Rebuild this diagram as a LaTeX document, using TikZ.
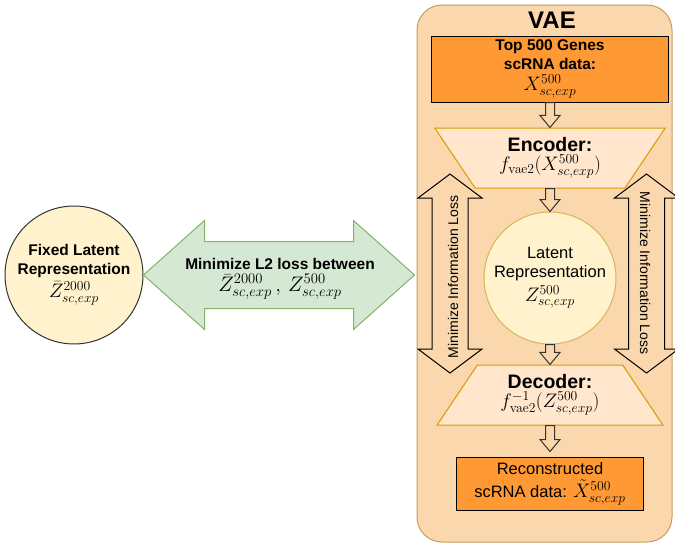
\RequirePackage{fix-cm}
\documentclass[tikz,border=0pt]{standalone}
\usepackage[no-math]{fontspec}
\setmainfont{Liberation Sans}
\usetikzlibrary{shapes.geometric,calc}

\definecolor{vaefill}{HTML}{FAD7AC}
\definecolor{vaeline}{HTML}{C89B5E}
\definecolor{datafill}{HTML}{FF9933}
\definecolor{codefill}{HTML}{FFE6CC}
\definecolor{codeline}{HTML}{D79B00}
\definecolor{latfill}{HTML}{FFF2CC}
\definecolor{latline}{HTML}{D6B656}
\definecolor{lossfill}{HTML}{D5E8D4}
\definecolor{lossline}{HTML}{82B366}

\newcommand{\txtsize}{\fontsize{15.5}{19}\selectfont}
\newcommand{\mathsize}{\fontsize{19.5}{22}\selectfont}

% hollow arrow pointing down from one node to the next
\newcommand{\hollowdown}[3][0pt]{%
  \draw[hollow] let \p1=(#2.south), \p2=(#3.north) in
    (\x1-4.5pt,\y1) -- (\x1+4.5pt,\y1) -- (\x1+4.5pt,\y2+12pt+#1) -- (\x1+10pt,\y2+12pt+#1)
    -- (\x1,\y2+#1) -- (\x1-10pt,\y2+12pt+#1) -- (\x1-4.5pt,\y2+12pt+#1) -- cycle;}

\tikzset{
  vaebox/.style={draw=vaeline, fill=vaefill, line width=1pt, rounded corners=25pt,
    minimum width=255pt, minimum height=537pt},
  databox/.style={draw=black, fill=datafill, line width=1pt, minimum width=237pt,
    minimum height=66pt, align=center, inner sep=0pt, font=\txtsize\bfseries},
  coder/.style={trapezium, trapezium stretches=true, trapezium angle=56, draw=codeline,
    fill=codefill, line width=1pt, minimum width=231pt, minimum height=60pt,
    align=center, inner sep=0pt},
  latent/.style={circle, fill=latfill, line width=1pt, inner sep=0pt, align=center,
    font=\fontsize{16.5}{19}\selectfont},
  hollow/.style={draw=black!80, fill=vaefill, line width=1pt},
  infoarrow/.style={draw=black, fill=vaefill, line width=1pt},
  lossarrow/.style={draw=lossline, fill=lossfill, line width=1pt},
  infotext/.style={font=\fontsize{14}{16}\selectfont, inner sep=0pt}
}

\begin{document}
\begin{tikzpicture}[x=1pt, y=-1pt]
  \useasboundingbox (0,0) rectangle (675,544);

  % VAE frame
  \node[vaebox] (vae) at (544.5,273.5) {};
  \node[font=\fontsize{24}{28}\selectfont\bfseries] (vaetitle) at (552,20.5) {VAE};

  % Nodes
  \node[databox] (topdata) at (550,69) {Top 500 Genes\\scRNA data:\\[2pt]\mathsize\mdseries$X^{500}_{sc,exp}$};
  \node[coder, shape border rotate=180] (encoder) at (550,158)
    {\fontsize{19.5}{22}\selectfont\bfseries Encoder:\\[2pt]\mathsize\mdseries$f_{\mathrm{vae2}}(X^{500}_{sc,exp})$};
  \node[latent, draw=latline, minimum size=132pt] (latent) at (550,278)
    {Latent\\Representation\\[3pt]\mathsize$Z^{500}_{sc,exp}$};
  \node[coder, minimum width=226pt] (decoder) at (550,395)
    {\fontsize{19.5}{22}\selectfont\bfseries Decoder:\\[2pt]\mathsize\mdseries$f^{-1}_{\mathrm{vae2}}(Z^{500}_{sc,exp})$};
  \node[databox, minimum width=187pt, minimum height=53pt, font=\fontsize{16.5}{22}\selectfont] (recon) at (550,483.5)
    {Reconstructed\\[1pt]scRNA data: {\mathsize$\tilde{X}^{500}_{sc,exp}$}};

  \node[latent, draw=black!80, minimum size=138pt, font=\txtsize\bfseries] (fixed) at (74,275)
    {Fixed Latent\\Representation\\[3pt]\mathsize\mdseries$\bar{Z}^{2000}_{sc,exp}$};

  % Arrows
  \hollowdown{topdata}{encoder}
  \hollowdown{encoder}{latent}
  \hollowdown{latent}{decoder}
  \hollowdown[5pt]{decoder}{recon}

  % information loss arrows
  \coordinate (infoL) at (450,174);
  \coordinate (infoR) at (646.5,174);
  \foreach \tip in {infoL, infoR}
    \draw[infoarrow] (\tip) -- ++(32,24) -- ++(-14,0) -- ++(0,151) -- ++(14,0) -- ++(-32,24)
      -- ++(-32,-24) -- ++(14,0) -- ++(0,-151) -- ++(-14,0) -- cycle;
  \node[infotext, rotate=90] (infoLtext) at (453,277) {Minimize Information Loss};
  \node[infotext, rotate=-90] (infoRtext) at (645,273) {Minimize Information Loss};

  % L2 loss arrow
  \draw[lossarrow] (fixed.east) -- ++(61,-54.5) -- ++(0,21) -- ++(149,0) -- ++(0,-21) -- ++(61,54.5)
    -- ++(-61,54.5) -- ++(0,-21) -- ++(-149,0) -- ++(0,21) -- cycle;
  \node[align=center, font=\txtsize\bfseries] (losstext) at (280,279)
    {Minimize L2 loss between\\[3pt]\fontsize{21}{24}\selectfont\mdseries$\bar{Z}^{2000}_{sc,exp}\,,\,Z^{500}_{sc,exp}$};
\end{tikzpicture}
\end{document}
